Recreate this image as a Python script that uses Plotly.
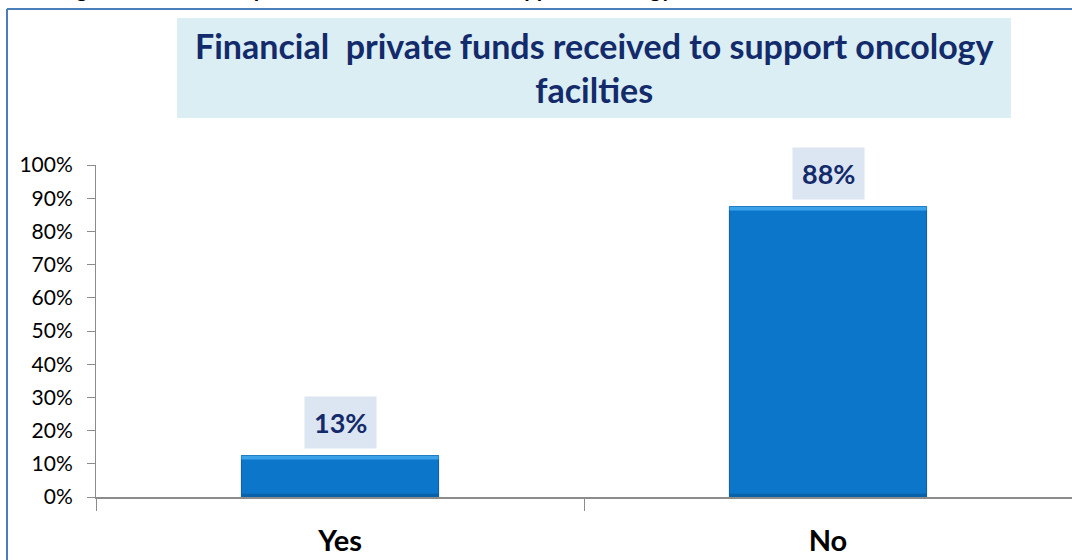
"""Bar chart: financial private funds received to support oncology facilities."""

import plotly.graph_objects as go

# ------------------------------------------------------------------ #
# Data                                                                 #
# ------------------------------------------------------------------ #

categories = ["Yes", "No"]
values = [12.5, 87.5]
value_labels = ["13%", "88%"]
y_ticks = list(range(0, 101, 10))
y_tick_text = [f"{t}%" for t in y_ticks]

title_text = "Financial  private funds received to support oncology<br>facilties"
caption_text = "Figure 56: Financial private funds received to support oncology facilities"

# ------------------------------------------------------------------ #
# Style                                                                #
# ------------------------------------------------------------------ #

_FONT = "Lato, Carlito, Calibri, Arial, sans-serif"
_NAVY = "#132a6b"
_AXIS = "#8c8c8c"
_BAR = "#0b76ca"
_BAR_TOP = "#3ba2ea"
_BAR_BOTTOM = "#0862aa"
_LABEL_BG = "#dce6f2"
_TITLE_BG = "#daeef3"
_BORDER = "#4a7ebb"

W, H = 1072, 560
L, R, T, B = 96, 0, 165, 63
plot_h = H - T - B


def px_to_paper_y(y_px):
    return (H - B - y_px) / plot_h


def px_to_paper_x(x_px):
    return (x_px - L) / (W - L - R)


fig = go.Figure()

# main bar body
fig.add_trace(
    go.Bar(
        x=categories,
        y=values,
        width=0.404,
        marker=dict(color=_BAR, line=dict(color="#0a5a9c", width=1)),
        hoverinfo="skip",
    )
)
# bevel: darker bottom strip and lighter top strip
fig.add_trace(
    go.Bar(
        x=categories,
        y=[1.0 for _ in values],
        base=[0 for _ in values],
        width=0.404,
        marker=dict(color=_BAR_BOTTOM, line=dict(width=0)),
        hoverinfo="skip",
    )
)
fig.add_trace(
    go.Bar(
        x=categories,
        y=[1.2 for _ in values],
        base=[v - 1.2 for v in values],
        width=0.404,
        marker=dict(color=_BAR_TOP, line=dict(width=0)),
        hoverinfo="skip",
    )
)

# value labels in shaded boxes
for cat, v, lab in zip(categories, values, value_labels):
    fig.add_annotation(
        x=cat,
        y=v,
        text=f"<b>{lab}</b>",
        showarrow=False,
        yanchor="bottom",
        yshift=7,
        bgcolor=_LABEL_BG,
        borderpad=9,
        font=dict(family=_FONT, size=27, color=_NAVY),
    )

# title box
fig.add_shape(
    type="rect",
    xref="paper",
    yref="paper",
    x0=px_to_paper_x(177),
    x1=px_to_paper_x(1011),
    y0=px_to_paper_y(118),
    y1=px_to_paper_y(18),
    fillcolor=_TITLE_BG,
    line=dict(width=0),
    layer="below",
)
fig.add_annotation(
    xref="paper",
    yref="paper",
    x=px_to_paper_x(594),
    y=px_to_paper_y(68),
    yanchor="middle",
    text=f"<b>{title_text}</b>",
    showarrow=False,
    align="center",
    font=dict(family=_FONT, size=34, color=_NAVY),
)

# chart border: left and top edges only, the rest runs off the page
fig.add_shape(
    type="line",
    xref="paper",
    yref="paper",
    x0=px_to_paper_x(7),
    x1=px_to_paper_x(7),
    y0=px_to_paper_y(560),
    y1=px_to_paper_y(9),
    line=dict(color=_BORDER, width=2),
)
fig.add_shape(
    type="line",
    xref="paper",
    yref="paper",
    x0=px_to_paper_x(7),
    x1=px_to_paper_x(1072),
    y0=px_to_paper_y(9),
    y1=px_to_paper_y(9),
    line=dict(color=_BORDER, width=2),
)

# caption above the chart, cut by the top edge as in the source
fig.add_annotation(
    xref="paper",
    yref="paper",
    x=px_to_paper_x(56),
    y=px_to_paper_y(4),
    xanchor="left",
    yanchor="bottom",
    text=f"<b>{caption_text}</b>",
    showarrow=False,
    font=dict(family=_FONT, size=22, color="black"),
)

fig.update_layout(
    width=W,
    height=H,
    margin=dict(l=L, r=R, t=T, b=B),
    paper_bgcolor="white",
    plot_bgcolor="white",
    barmode="overlay",
    showlegend=False,
    font=dict(family=_FONT, color="black"),
    xaxis=dict(
        showgrid=False,
        showline=True,
        linecolor=_AXIS,
        linewidth=2,
        ticks="outside",
        tickson="boundaries",
        ticklen=12,
        tickcolor=_AXIS,
        tickwidth=1,
        tickfont=dict(family=_FONT, size=29, color="black"),
        tickvals=categories,
        ticktext=[f"<b>{c}</b>" for c in categories],
        ticklabelstandoff=17,
    ),
    yaxis=dict(
        range=[0, 100],
        showgrid=False,
        showline=True,
        linecolor=_AXIS,
        linewidth=1,
        ticks="outside",
        ticklen=8,
        tickcolor=_AXIS,
        tickvals=y_ticks,
        ticktext=y_tick_text,
        tickfont=dict(family=_FONT, size=21, color="black"),
        ticklabelstandoff=10,
        zeroline=False,
    ),
)

fig.write_html(
    "out.html",
    config={"displayModeBar": False},
    post_script="document.body.style.margin='0';",
)
